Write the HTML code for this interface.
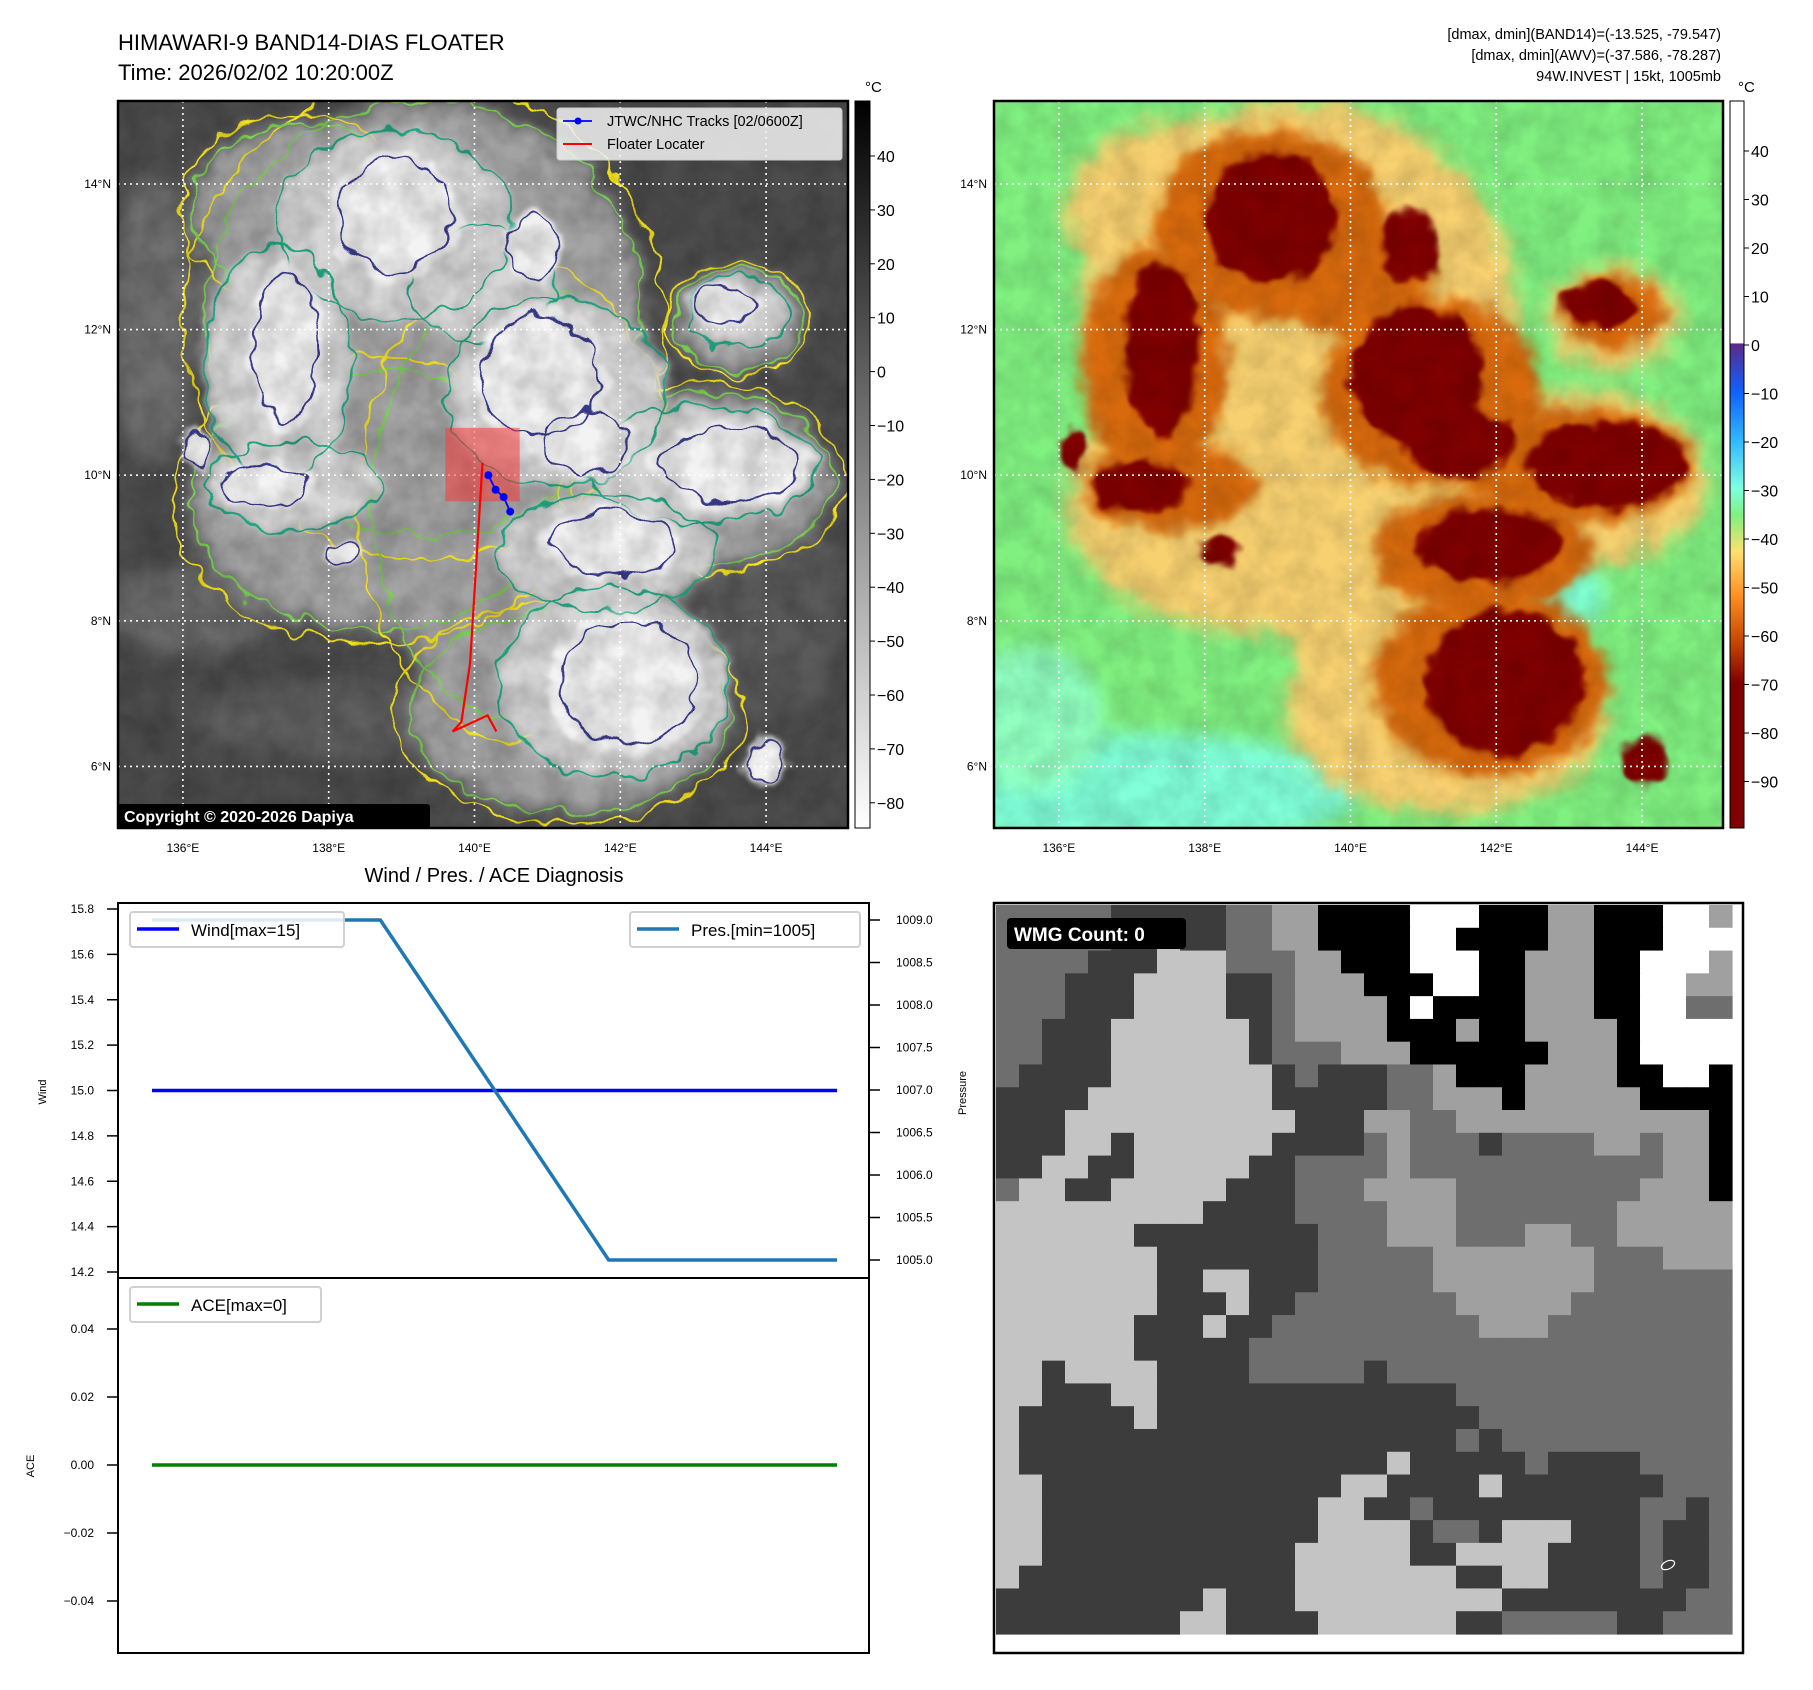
<!DOCTYPE html>
<html><head><meta charset="utf-8">
<style>
html,body{margin:0;padding:0;background:#fff;}
svg{display:block;font-family:"Liberation Sans","DejaVu Sans",sans-serif;}
</style></head>
<body>
<svg id="fig" width="1813" height="1690" viewBox="0 0 1813 1690" xmlns="http://www.w3.org/2000/svg">
<defs>
  <filter id="b8" x="-50%" y="-50%" width="200%" height="200%"><feGaussianBlur stdDeviation="9"/></filter>
  <filter id="b5" x="-50%" y="-50%" width="200%" height="200%"><feGaussianBlur stdDeviation="6"/></filter>
  <filter id="b3" x="-50%" y="-50%" width="200%" height="200%"><feGaussianBlur stdDeviation="3"/></filter>
  <filter id="noise" x="0" y="0" width="100%" height="100%">
    <feTurbulence type="fractalNoise" baseFrequency="0.035" numOctaves="3" seed="4"/>
    <feColorMatrix type="matrix" values="0 0 0 0 0  0 0 0 0 0  0 0 0 0 0  0 0 0 0.9 -0.25"/>
  </filter>
  <filter id="wobble" x="-10%" y="-10%" width="120%" height="120%">
    <feTurbulence type="fractalNoise" baseFrequency="0.04" numOctaves="2" seed="7" result="t"/>
    <feDisplacementMap in="SourceGraphic" in2="t" scale="22" xChannelSelector="R" yChannelSelector="G"/>
  </filter>
  <clipPath id="clipL"><rect x="118" y="101" width="730" height="727"/></clipPath>
  <clipPath id="clipR"><rect x="994" y="101" width="729" height="727"/></clipPath>
  <linearGradient id="cbGrey" x1="0" y1="0" x2="0" y2="1">
    <stop offset="0" stop-color="#000"/><stop offset="1" stop-color="#fff"/>
  </linearGradient>
  <linearGradient id="cbColor" x1="0" y1="101" x2="0" y2="828" gradientUnits="userSpaceOnUse">
    <stop offset="0" stop-color="#fff"/>
    <stop offset="0.333" stop-color="#fff"/>
    <stop offset="0.334" stop-color="#5a2a8a"/>
    <stop offset="0.40" stop-color="#1060ff"/>
    <stop offset="0.467" stop-color="#30b8ff"/>
    <stop offset="0.533" stop-color="#80ffe0"/>
    <stop offset="0.57" stop-color="#80f080"/>
    <stop offset="0.62" stop-color="#ffe070"/>
    <stop offset="0.68" stop-color="#ff9020"/>
    <stop offset="0.75" stop-color="#c04000"/>
    <stop offset="0.80" stop-color="#800000"/>
    <stop offset="1" stop-color="#800000"/>
  </linearGradient>
</defs>

<text x="118" y="50" font-size="22" fill="#000">HIMAWARI-9 BAND14-DIAS FLOATER</text>
<text x="118" y="80" font-size="22" fill="#000">Time: 2026/02/02 10:20:00Z</text>
<text x="1721" y="39" font-size="14.5" text-anchor="end">[dmax, dmin](BAND14)=(-13.525, -79.547)</text>
<text x="1721" y="60" font-size="14.5" text-anchor="end">[dmax, dmin](AWV)=(-37.586, -78.287)</text>
<text x="1721" y="81" font-size="14.5" text-anchor="end">94W.INVEST | 15kt, 1005mb</text>

<g id="mapL" clip-path="url(#clipL)"></g>
<g id="mapR" clip-path="url(#clipR)"></g>
<g id="gridL"></g>
<g id="gridR"></g>
<g id="track"></g>
<rect x="118" y="101" width="730" height="727" fill="none" stroke="#000" stroke-width="2.5"/>
<rect x="994" y="101" width="729" height="727" fill="none" stroke="#000" stroke-width="2.5"/>

<g>
  <rect x="557" y="108" width="285" height="52" rx="3" fill="#f2f2f2" fill-opacity="0.85" stroke="#ccc"/>
  <line x1="563" y1="121" x2="592" y2="121" stroke="#00f" stroke-width="1.8"/>
  <circle cx="578" cy="121" r="3.5" fill="#00f"/>
  <text x="607" y="126" font-size="14.5">JTWC/NHC Tracks [02/0600Z]</text>
  <line x1="563" y1="144" x2="592" y2="144" stroke="#f00" stroke-width="2"/>
  <text x="607" y="149" font-size="14.5">Floater Locater</text>
</g>
<g>
  <rect x="118" y="804" width="312" height="25" rx="3" fill="#000"/>
  <text x="124" y="822" font-size="16" font-weight="bold" fill="#fff">Copyright © 2020-2026 Dapiya</text>
</g>

<g id="cbL">
  <rect x="855" y="101" width="15" height="727" fill="url(#cbGrey)" stroke="#000" stroke-width="1"/>
  <text x="865" y="92" font-size="15">°C</text>
</g>
<g id="cbR">
  <rect x="1730" y="101" width="14" height="727" fill="url(#cbColor)" stroke="#000" stroke-width="1"/>
  <text x="1738" y="92" font-size="15">°C</text>
</g>

<text x="494" y="882" font-size="20" text-anchor="middle">Wind / Pres. / ACE Diagnosis</text>
<g id="chart"></g>
<g id="wmg"></g>
</svg>

<script>
const NS='http://www.w3.org/2000/svg';
function mk(tag,attrs,parent){const e=document.createElementNS(NS,tag);for(const k in attrs)e.setAttribute(k,attrs[k]);parent.appendChild(e);return e;}

const LON0=135.11, LAT0=15.14, PXDEG_X=72.9, PXDEG_Y=72.8;
function mx(x0,lon){return x0+(lon-LON0)*PXDEG_X;}
function my(lat){return 101+(LAT0-lat)*PXDEG_Y;}

const latTicks=[14,12,10,8,6];
const lonTicks=[136,138,140,142,144];

const envelopeBlobs=[[.42,.30,.30,.30],[.35,.55,.25,.18],[.55,.55,.2,.3],[.62,.84,.22,.14],[.80,.52,.18,.12],[.85,.30,.09,.07],[.25,.15,.15,.12]];
const coldBlobs=[[.38,.17,.16,.13],[.22,.36,.1,.16],[.6,.4,.15,.13],[.8,.5,.16,.08],[.67,.62,.15,.08],[.68,.8,.16,.13],[.24,.53,.12,.06],[.85,.29,.07,.05],[.5,.25,.1,.08]];
const coreBlobs=[[.38,.16,.09,.09],[.23,.34,.05,.12],[.58,.38,.09,.1],[.64,.47,.07,.05],[.84,.5,.11,.06],[.68,.61,.1,.05],[.7,.8,.11,.1],[.89,.91,.03,.035],[.83,.28,.05,.03],[.2,.53,.07,.035],[.31,.62,.025,.018],[.11,.48,.02,.03],[.57,.2,.04,.05]];

function drawMap(gid,x0,style){
  const g=document.getElementById(gid), W=729, H=727, y0=101;
  mk('rect',{x:x0,y:y0,width:W,height:H,fill:style.bg},g);
  style.extra.forEach(p=>mk('ellipse',{cx:x0+p[0]*W,cy:y0+p[1]*H,rx:p[2]*W,ry:p[3]*H,fill:p[4],filter:'url(#b8)'},g));
  const layers=[[envelopeBlobs,style.a,'url(#b8)',style.sa],[coldBlobs,style.b,'url(#b5)',style.sb],[coreBlobs,style.c,'url(#b3)',style.sc]];
  layers.forEach(([arr,fill,filt,stroke],li)=>{
    if(li===1&&style.patch){mk('ellipse',{cx:x0+.77*W,cy:y0+.68*H,rx:.07*W,ry:.05*H,fill:style.patch,filter:'url(#b8)'},g);}
    const lg=mk('g',{filter:'url(#wobble)'},g);
    arr.forEach(b=>{
      const el=mk('ellipse',{cx:x0+b[0]*W,cy:y0+b[1]*H,rx:b[2]*W,ry:b[3]*H,fill:fill,filter:filt},lg);
      
      
    });
    if(stroke){const sg=mk('g',{filter:'url(#wobble)'},g);
      arr.forEach(b=>stroke.forEach(s=>mk('ellipse',{cx:x0+b[0]*W,cy:y0+b[1]*H,rx:b[2]*W*s[1],ry:b[3]*H*s[1],fill:'none',stroke:s[0],'stroke-width':2},sg)));}
  });
  mk('rect',{x:x0,y:y0,width:W,height:H,fill:'#000',filter:'url(#noise)',opacity:style.noise},g);
}
drawMap('mapL',118,{bg:'#4c4c4c',a:'#a4a4a4',b:'#d6d6d6',c:'#f3f3f3',noise:0.35,
  extra:[[.1,.7,.12,.06,'#6a6a6a'],[.3,.85,.2,.05,'#5e5e5e'],[.9,.7,.1,.15,'#5a5a5a'],[.05,.3,.06,.2,'#707070']],
  sa:[['#f5e21a',1.1],['#7ad151',1.0]],sb:[['#22a884',1.0]],sc:[['#3b3b8f',0.85]]});
drawMap('mapR',994,{bg:'#80f080',a:'#f7d070',b:'#d86a10',c:'#800000',patch:'#80ffd0',noise:0.25,
  extra:[[.2,.95,.3,.08,'#80ffd8'],[.05,.85,.1,.1,'#90ffc0']]});

function drawGrid(gid,x0){
  const g=document.getElementById(gid);
  latTicks.forEach(la=>{const y=my(la);
    mk('line',{x1:x0,y1:y,x2:x0+729,y2:y,stroke:'#fff','stroke-width':1.6,'stroke-dasharray':'2,4'},g);
    const t=mk('text',{x:x0-7,y:y+4,'font-size':12,'text-anchor':'end'},g);t.textContent=la+'°N';});
  lonTicks.forEach(lo=>{const x=mx(x0,lo);
    mk('line',{x1:x,y1:101,x2:x,y2:828,stroke:'#fff','stroke-width':1.6,'stroke-dasharray':'2,4'},g);
    const t=mk('text',{x:x,y:852,'font-size':12,'text-anchor':'middle'},g);t.textContent=lo+'°E';});
}
drawGrid('gridL',118);drawGrid('gridR',994);

const trackLon=[140.19,140.29,140.40,140.49];
const trackLat=[10.0,9.8,9.7,9.5];
const locLon=[140.11,139.94,139.82,139.70,140.18,140.30];
const locLat=[10.17,7.42,6.61,6.48,6.70,6.48];
(function(){
  const g=document.getElementById('track');
  const r=mk('rect',{x:mx(118,139.6),y:my(10.65),width:(1.02)*PXDEG_X,height:1.01*PXDEG_Y,fill:'#ff3030','fill-opacity':0.5},g);
  
  
  const lp=mk('polyline',{points:locLon.map((l,i)=>mx(118,l)+','+my(locLat[i])).join(' '),fill:'none',stroke:'#f00','stroke-width':2.2},g);
  
  
  const tp=mk('polyline',{points:trackLon.map((l,i)=>mx(118,l)+','+my(trackLat[i])).join(' '),fill:'none',stroke:'#00f','stroke-width':1.8},g);
  
  
  trackLon.forEach((l,i)=>{const c=mk('circle',{cx:mx(118,l),cy:my(trackLat[i]),r:4,fill:'#00f'},g);
    
    });
})();

const cbLTicks=[40,30,20,10,0,-10,-20,-30,-40,-50,-60,-70,-80];
const cbRTicks=[40,30,20,10,0,-10,-20,-30,-40,-50,-60,-70,-80,-90];
(function(){
  const gL=document.getElementById('cbL'), gR=document.getElementById('cbR');
  cbLTicks.forEach(v=>{const y=156+(40-v)*5.39;
    mk('line',{x1:870,y1:y,x2:875,y2:y,stroke:'#000'},gL);
    const t=mk('text',{x:877,y:y+6,'font-size':16},gL);t.textContent=(v<0?'\u2212'+(-v):v);});
  cbRTicks.forEach(v=>{const y=151+(40-v)*4.85;
    mk('line',{x1:1744,y1:y,x2:1749,y2:y,stroke:'#000'},gR);
    const t=mk('text',{x:1751,y:y+6,'font-size':16},gR);t.textContent=(v<0?'\u2212'+(-v):v);});
})();

const times=[0,1,2,3];
const windVals=[15,15,15,15];
const presVals=[1009,1009,1005,1005];
const aceVals=[0,0,0,0];
const windTicks=[15.8,15.6,15.4,15.2,15.0,14.8,14.6,14.4,14.2];
const presTicks=[1009.0,1008.5,1008.0,1007.5,1007.0,1006.5,1006.0,1005.5,1005.0];
const aceTicks=[0.04,0.02,0.00,-0.02,-0.04];
(function(){
  const g=document.getElementById('chart');
  const L=118,R=869,T=903,M=1278,B=1653;
  const xs=t=>152+(t-times[0])/(times[times.length-1]-times[0])*(837-152);
  const yw=v=>1272-(v-14.2)/(15.8-14.2)*(1272-909);
  const yp=v=>1260-(v-1005)/(1009-1005)*(1260-920);
  const ya=v=>1465-v/0.04*(1465-1329);
  mk('rect',{x:L,y:T,width:R-L,height:B-T,fill:'#fff',stroke:'#000','stroke-width':2},g);
  mk('line',{x1:L,y1:M,x2:R,y2:M,stroke:'#000','stroke-width':2},g);
  windTicks.forEach(v=>{const y=yw(v);mk('line',{x1:L-11,y1:y,x2:L,y2:y,stroke:'#000','stroke-width':1.5},g);
    const t=mk('text',{x:L-24,y:y+4,'font-size':12,'text-anchor':'end'},g);t.textContent=v.toFixed(1);});
  presTicks.forEach(v=>{const y=yp(v);mk('line',{x1:R,y1:y,x2:R+11,y2:y,stroke:'#000','stroke-width':1.5},g);
    const t=mk('text',{x:R+27,y:y+4,'font-size':12},g);t.textContent=v.toFixed(1);});
  aceTicks.forEach(v=>{const y=ya(v);mk('line',{x1:L-11,y1:y,x2:L,y2:y,stroke:'#000','stroke-width':1.5},g);
    const t=mk('text',{x:L-24,y:y+4,'font-size':12,'text-anchor':'end'},g);t.textContent=(v<0?'\u2212':'')+Math.abs(v).toFixed(2);});
  let t=mk('text',{x:0,y:0,'font-size':11,'text-anchor':'middle',transform:'translate(46,1092) rotate(-90)'},g);t.textContent='Wind';
  t=mk('text',{x:0,y:0,'font-size':11,'text-anchor':'middle',transform:'translate(966,1093) rotate(-90)'},g);t.textContent='Pressure';
  t=mk('text',{x:0,y:0,'font-size':11,'text-anchor':'middle',transform:'translate(34,1466) rotate(-90)'},g);t.textContent='ACE';
  const wl=mk('polyline',{points:times.map((x,i)=>xs(x)+','+yw(windVals[i])).join(' '),fill:'none',stroke:'#0000ff','stroke-width':3.5},g);
  
  
  const pl=mk('polyline',{points:times.map((x,i)=>xs(x)+','+yp(presVals[i])).join(' '),fill:'none',stroke:'#1f77b4','stroke-width':3.5},g);
  
  
  const al=mk('polyline',{points:times.map((x,i)=>xs(x)+','+ya(aceVals[i])).join(' '),fill:'none',stroke:'#008000','stroke-width':3.5},g);
  
  
  function legend(x,y,w,color,label,name){
    const lg=mk('g',{},g);
    
    
    mk('rect',{x:x,y:y,width:w,height:35,rx:3,fill:'#fff','fill-opacity':0.85,stroke:'#d0d0d0','stroke-width':2},lg);
    mk('line',{x1:x+7,y1:y+17,x2:x+49,y2:y+17,stroke:color,'stroke-width':3.5},lg);
    const tt=mk('text',{x:x+61,y:y+24,'font-size':17},lg);tt.textContent=label;
  }
  legend(130,912,214,'#0000ff','Wind[max=15]','wind-legend');
  legend(630,912,230,'#1f77b4','Pres.[min=1005]','pressure-legend');
  legend(130,1287,191,'#008000','ACE[max=0]','ace-legend');
})();

const wmgRows=[
"22222111112233000055500033000553",
"22222114112233000055000033000555",
"22221114442223300055500333005553",
"22211144441123330005500333005533",
"22211144441123333050000333005522",
"22111444444123333000300333305555",
"22111444444122233300000033305555",
"21111444444412111223000333300550",
"11114444444411111223330333330000",
"11144444444441113322333333333330",
"11144144444411112322212222332330",
"11441144444112222322222222222330",
"24411444441112223333222222223330",
"44444444411112222333222222233333",
"44444411111111222333222332233333",
"44444441111111222223333333222333",
"44444441144111222223333333222222",
"44444441114112222222333332222222",
"44444411141122222222233322222222",
"44444411111222222222222222222222",
"44144441111222221222222222222222",
"44111441111111111111222222222222",
"41111141111111111111122222222222",
"41111111111111111111212222222222",
"41111111111111111411111211112222",
"44111111111111144111141111111222",
"44111111111111441121111111112212",
"44111111111111444412214441112112",
"44111111111114444411444411112112",
"41111111111114444444114411112112",
"11111111141114444444441111111122",
"11111111441111444444112222211222"];
const wmgPalette=['#000000','#3c3c3c','#6e6e6e','#a0a0a0','#c4c4c4','#ffffff'];
(function(){
  const g=document.getElementById('wmg');
  const X0=996,Y0=905,W=736,H=729,n=32,cw=W/n,ch=H/n;
  mk('rect',{x:994,y:903,width:749,height:750,fill:'#fff'},g);
  wmgRows.forEach((row,j)=>{for(let i=0;i<n;i++){
    mk('rect',{x:(X0+i*cw).toFixed(2),y:(Y0+j*ch).toFixed(2),width:(cw+0.6).toFixed(2),height:(ch+0.6).toFixed(2),fill:wmgPalette[+row[i]]},g);}});
  mk('ellipse',{cx:1668,cy:1565,rx:7,ry:4,fill:'none',stroke:'#fff','stroke-width':1.2,transform:'rotate(-25 1668 1565)'},g);
  mk('rect',{x:994,y:903,width:749,height:750,fill:'none',stroke:'#000','stroke-width':2.5},g);
  const lb=mk('g',{},g);
  
  
  mk('rect',{x:1007,y:918,width:179,height:31,rx:4,fill:'#000'},lb);
  const t=mk('text',{x:1014,y:941,'font-size':19,'font-weight':'bold',fill:'#fff'},lb);t.textContent='WMG Count: 0';
})();
</script>
</body></html>
